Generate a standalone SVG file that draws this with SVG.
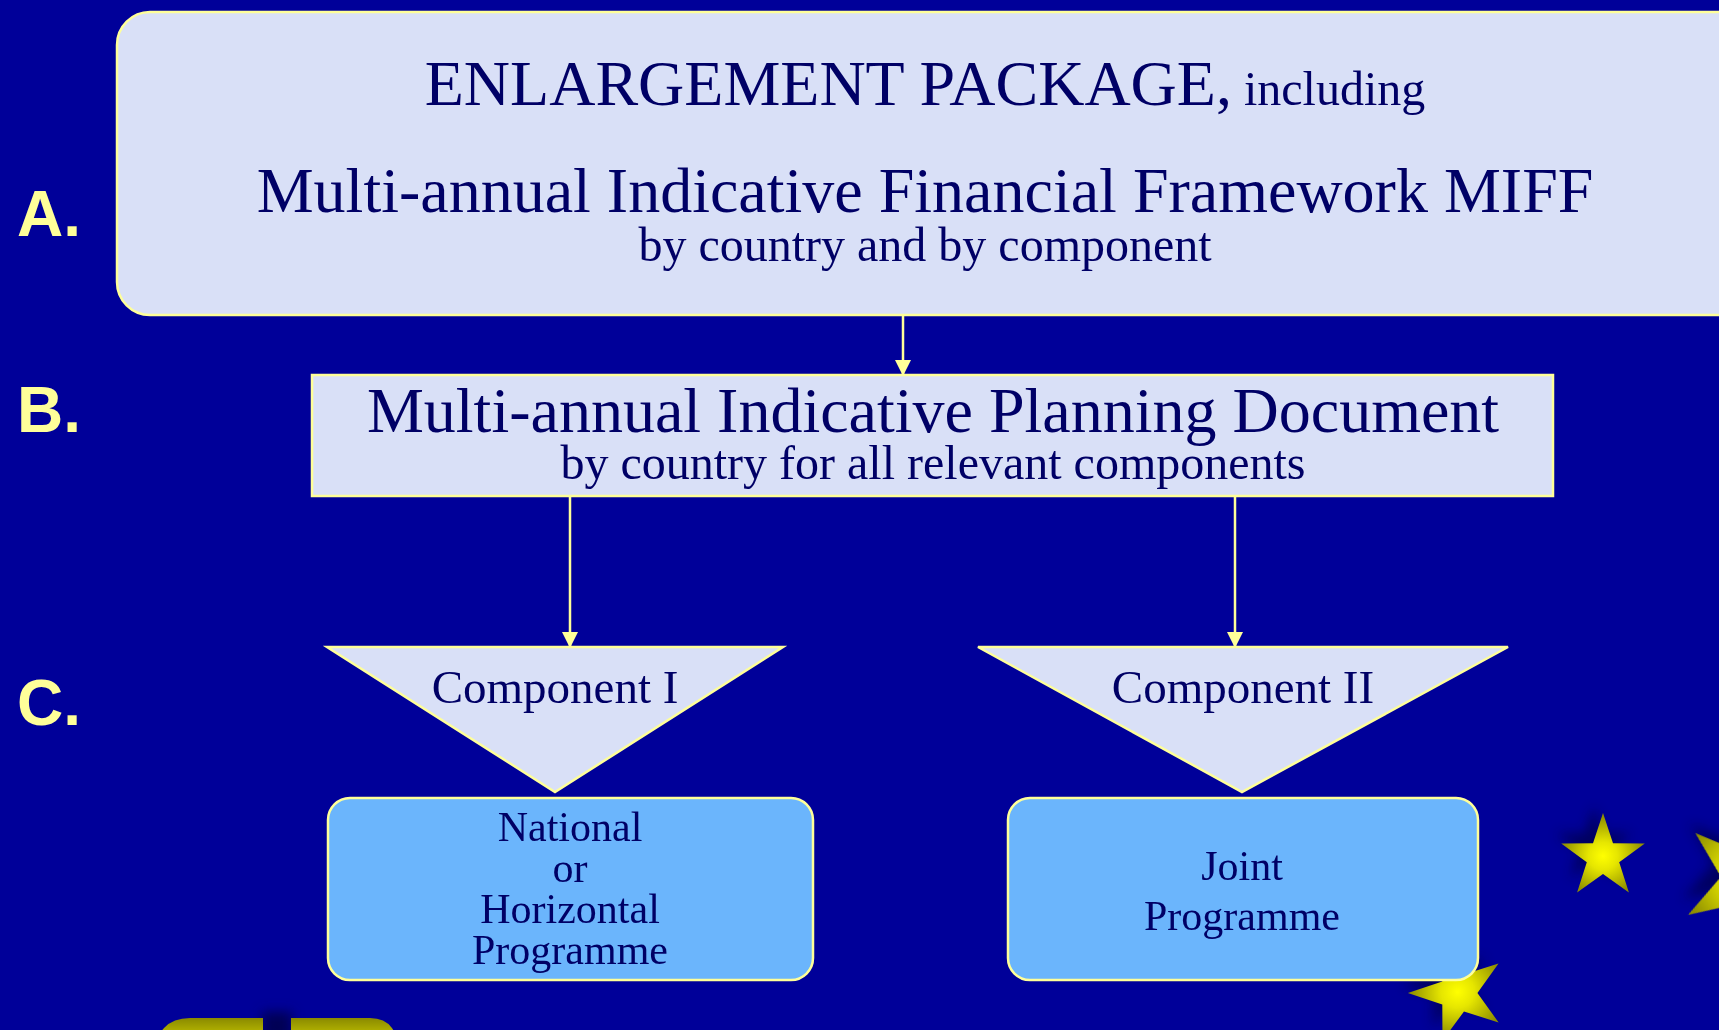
<svg xmlns="http://www.w3.org/2000/svg" width="1719" height="1030" viewBox="0 0 1719 1030">
<style>
.box{fill:#d9e0f7;stroke:#ffff99;stroke-width:2.5}
.prog{fill:#6bb5fc;stroke:#ffff99;stroke-width:2.5}
.t{font-family:"Liberation Serif","Times New Roman",serif;fill:#000066;text-anchor:middle}
.lab{font-family:"Liberation Sans",Arial,sans-serif;font-weight:bold;font-size:64px;fill:#ffff99}
.conn{stroke:#ffff99;stroke-width:2.5;fill:none}
</style>
<defs>
<marker id="arr" viewBox="0 0 16 16" refX="15" refY="8" markerWidth="16" markerHeight="16" markerUnits="userSpaceOnUse" orient="auto">
<path d="M0,0 L16,8 L0,16 Z" fill="#ffff99"/>
</marker>
<radialGradient id="sg" cx="0.5" cy="0.54" r="0.5">
<stop offset="0" stop-color="#ffff00"/>
<stop offset="0.35" stop-color="#e6e600"/>
<stop offset="1" stop-color="#8f8f00"/>
</radialGradient>
<linearGradient id="yg" x1="0" y1="0" x2="0" y2="1">
<stop offset="0" stop-color="#8a8a00"/>
<stop offset="1" stop-color="#c8c800"/>
</linearGradient>
<filter id="sh" x="-50%" y="-50%" width="200%" height="200%">
<feGaussianBlur stdDeviation="6"/>
</filter>
<polygon id="star" points="0,-44 10,-13.8 41.8,-13.6 16.2,5.3 25.9,35.6 0,17 -25.9,35.6 -16.2,5.3 -41.8,-13.6 -10,-13.8"/>
</defs>
<rect width="1719" height="1030" fill="#000099"/>

<g id="labels">
<text class="lab" x="17" y="236">A.</text>
<text class="lab" x="17" y="432">B.</text>
<text class="lab" x="17" y="725">C.</text>
</g>

<g id="decor">
<g opacity="0.55" filter="url(#sh)" fill="#000033">
<use href="#star" transform="translate(1594,846) scale(0.9)"/>
<use href="#star" transform="translate(1738,866) rotate(23) scale(1.45)"/>
<use href="#star" transform="translate(1448,984) rotate(-18) scale(1.05)"/>
</g>
<use href="#star" fill="url(#sg)" transform="translate(1603,857)"/>
<use href="#star" fill="url(#sg)" transform="translate(1748,879) rotate(23) scale(1.59)"/>
<use href="#star" fill="url(#sg)" transform="translate(1458,993) rotate(-18) scale(1.14)"/>
<rect x="262" y="1012" width="30" height="30" fill="#000055" filter="url(#sh)"/>
<path d="M157,1040 L157,1040 Q165,1018 190,1018 L263,1018 L263,1040 Z" fill="url(#yg)"/>
<path d="M291,1040 L291,1018 L370,1018 Q392,1018 397,1040 Z" fill="url(#yg)"/>
</g>

<g id="connectors">
<line class="conn" x1="903" y1="315" x2="903" y2="375" marker-end="url(#arr)"/>
<line class="conn" x1="570" y1="497" x2="570" y2="647" marker-end="url(#arr)"/>
<line class="conn" x1="1235" y1="497" x2="1235" y2="647" marker-end="url(#arr)"/>
</g>

<g id="nodeA">
<rect class="box" x="117" y="12" width="1640" height="303" rx="33" ry="33"/>
<text class="t" x="925" y="105" font-size="64">ENLARGEMENT PACKAGE,<tspan font-size="48"> including</tspan></text>
<text class="t" x="925" y="212" font-size="64">Multi-annual Indicative Financial Framework MIFF</text>
<text class="t" x="925" y="261" font-size="48">by country and by component</text>
</g>

<g id="nodeB">
<rect class="box" x="312" y="375" width="1241" height="121"/>
<text class="t" x="933" y="432" font-size="64">Multi-annual Indicative Planning Document</text>
<text class="t" x="933" y="479" font-size="48">by country for all relevant components</text>
</g>

<g id="nodeC1">
<polygon class="box" points="327,647 783,647 555,792"/>
<text class="t" x="555" y="703" font-size="47">Component I</text>
</g>

<g id="nodeC2">
<polygon class="box" points="978,647 1508,647 1242,792"/>
<text class="t" x="1243" y="703" font-size="47">Component II</text>
</g>

<g id="nodeP1">
<rect class="prog" x="328" y="798" width="485" height="182" rx="22" ry="22"/>
<text class="t" x="570" font-size="42"><tspan x="570" y="841">National</tspan><tspan x="570" y="882">or</tspan><tspan x="570" y="923">Horizontal</tspan><tspan x="570" y="964">Programme</tspan></text>
</g>

<g id="nodeP2">
<rect class="prog" x="1008" y="798" width="470" height="182" rx="22" ry="22"/>
<text class="t" x="1242" font-size="42"><tspan x="1242" y="880">Joint</tspan><tspan x="1242" y="930">Programme</tspan></text>
</g>
</svg>
